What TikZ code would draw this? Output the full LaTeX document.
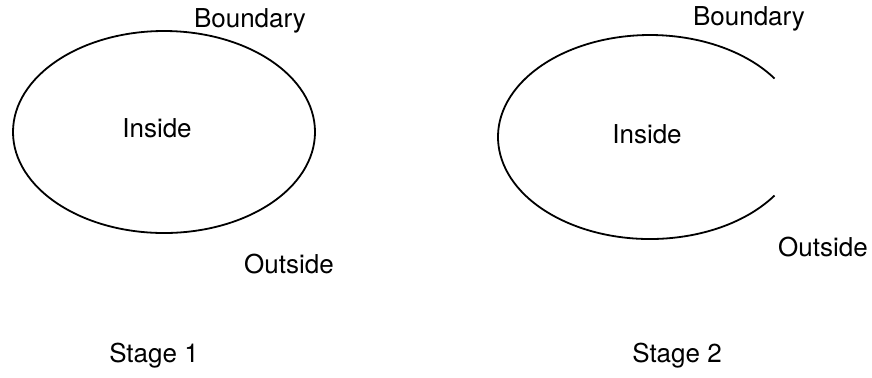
\documentclass[tikz,border=0pt]{standalone}
\usepackage{fontspec}
\setmainfont{TeX Gyre Heros}

\begin{document}
\begin{tikzpicture}[
    x=0.5pt, y=-0.5pt,
    word/.style={inner sep=0pt, font=\fontsize{13}{15}\selectfont},
    rim/.style={line width=0.9pt}
]
    \useasboundingbox (0,0) rectangle (872,377);

    % Stage 1: closed region
    \draw[rim] (164,132) ellipse [x radius=151, y radius=101];
    \node[word] (bound1) at (250,21) {Boundary};
    \node[word] (in1) at (157,128) {Inside};
    \node[word] (out1) at (289,264) {Outside};
    \node[word] (stage1) at (154,356) {Stage 1};

    % Stage 2: region with a gap
    \draw[rim] (650,137) ++(35:152 and 102)
        arc[start angle=35, end angle=325, x radius=152, y radius=102];
    \node[word] (bound2) at (749,19) {Boundary};
    \node[word] (in2) at (647,134) {Inside};
    \node[word] (out2) at (823,247) {Outside};
    \node[word] (stage2) at (677,356) {Stage 2};
\end{tikzpicture}
\end{document}
